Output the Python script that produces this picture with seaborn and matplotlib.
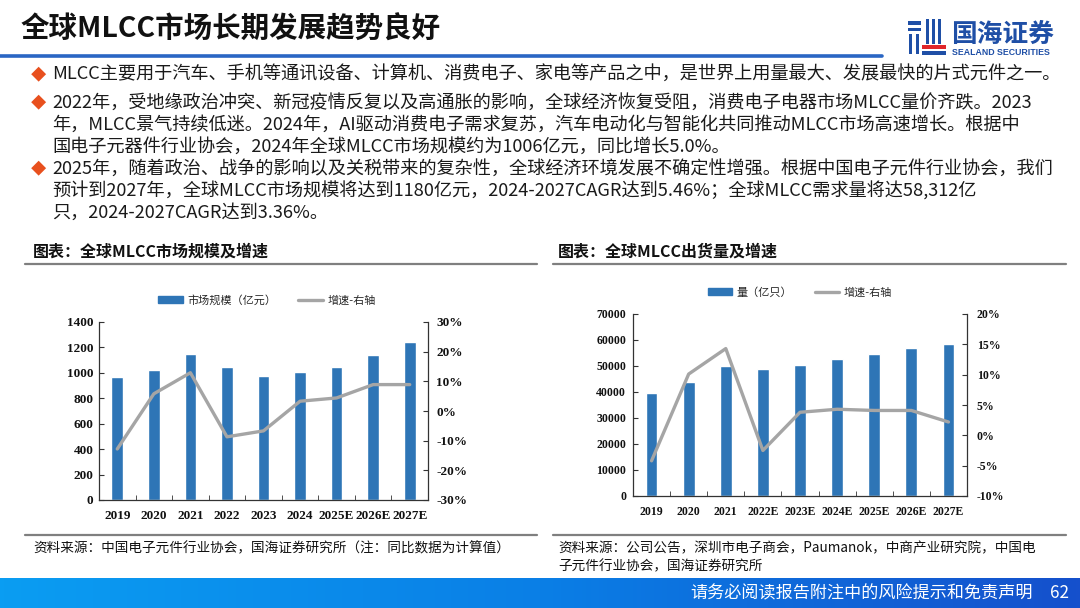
import numpy as np
import pandas as pd
import matplotlib
matplotlib.use("Agg")
import matplotlib.pyplot as plt
import seaborn as sns
from matplotlib.patches import Patch, Rectangle
from matplotlib.lines import Line2D
from matplotlib.colors import LinearSegmentedColormap
from matplotlib.ticker import FuncFormatter, FixedLocator

# ---------------- data ----------------
years_a = ["2019", "2020", "2021", "2022", "2023", "2024", "2025E", "2026E", "2027E"]
market_size = [965, 1022, 1147, 1046, 973, 1006, 1049, 1143, 1245]
market_growth = [-12.8, 5.8, 12.9, -8.7, -6.7, 3.3, 4.4, 8.9, 8.9]

years_b = ["2019", "2020", "2021", "2022E", "2023E", "2024E", "2025E", "2026E", "2027E"]
shipments = [39700, 43800, 50000, 48700, 50500, 52700, 54700, 57000, 58312]
ship_growth = [-4.2, 10.1, 14.3, -2.5, 3.8, 4.3, 4.1, 4.1, 2.2]

title = "全球MLCC市场长期发展趋势良好"
bullets = [
    ["MLCC主要用于汽车、手机等通讯设备、计算机、消费电子、家电等产品之中，是世界上用量最大、发展最快的片式元件之一。"],
    ["2022年，受地缘政治冲突、新冠疫情反复以及高通胀的影响，全球经济恢复受阻，消费电子电器市场MLCC量价齐跌。2023",
     "年，MLCC景气持续低迷。2024年，AI驱动消费电子需求复苏，汽车电动化与智能化共同推动MLCC市场高速增长。根据中",
     "国电子元器件行业协会，2024年全球MLCC市场规模约为1006亿元，同比增长5.0%。"],
    ["2025年，随着政治、战争的影响以及关税带来的复杂性，全球经济环境发展不确定性增强。根据中国电子元件行业协会，我们",
     "预计到2027年，全球MLCC市场规模将达到1180亿元，2024-2027CAGR达到5.46%；全球MLCC需求量将达58,312亿",
     "只，2024-2027CAGR达到3.36%。"],
]
chart_title_a = "图表：全球MLCC市场规模及增速"
chart_title_b = "图表：全球MLCC出货量及增速"
legend_a = ["市场规模（亿元）", "增速-右轴"]
legend_b = ["量（亿只）", "增速-右轴"]
source_a = "资料来源：中国电子元件行业协会，国海证券研究所（注：同比数据为计算值）"
source_b = ["资料来源：公司公告，深圳市电子商会，Paumanok，中商产业研究院，中国电",
            "子元件行业协会，国海证券研究所"]
footer = "请务必阅读报告附注中的风险提示和免责声明"
page_no = "62"

# ---------------- style ----------------
sns.set_style("ticks")
CJK = ["Noto Sans CJK SC", "DejaVu Sans"]
plt.rcParams["font.family"] = CJK
SERIF = ["Liberation Serif", "DejaVu Serif"]

BAR = "#2E75B6"
GRAY = "#A5A5A5"
W, H = 1080, 608

fig = plt.figure(figsize=(10.8, 6.08), dpi=100)
fig.patch.set_facecolor("white")


def fx(x):
    return x / W


def fy(y):
    return 1 - y / H


def ftext(x, y, s, **kw):
    kw.setdefault("va", "center")
    kw.setdefault("ha", "left")
    fig.text(fx(x), fy(y), s, **kw)


def hline(x0, x1, y, color, lw):
    fig.add_artist(Line2D([fx(x0), fx(x1)], [fy(y), fy(y)], color=color, lw=lw,
                          transform=fig.transFigure))


def rect(x0, y0, x1, y1, color):
    fig.add_artist(Rectangle((fx(x0), fy(y1)), fx(x1) - fx(x0), fy(y0) - fy(y1),
                             color=color, transform=fig.transFigure, lw=0))


# header
ftext(21, 30, title, fontsize=20.5, fontweight="bold", color="#111111")
hline(0, 882, 55.5, "#2A66C4", 2.6)

# logo
LB = "#1F4FA6"
LR = "#E0262A"
rect(908, 21, 921, 25, LB)
rect(908, 28, 921, 31, LB)
rect(909, 34, 912, 54, LB)
rect(916, 34, 919, 54, LB)
rect(926, 19, 929, 44, LB)
rect(932, 19, 935, 44, LB)
rect(938, 19, 941, 44, LB)
rect(922, 45, 946, 49, LR)
rect(922, 51, 946, 55, LB)
ftext(951, 34, "国海证券", fontsize=18.5, fontweight="bold", color=LB)
ftext(952, 52.5, "SEALAND SECURITIES", fontsize=6.3, fontweight="bold", color=LB,
      family=["Liberation Sans", "DejaVu Sans"])

# bullets
line_y = [[75], [103, 125, 147], [169, 191, 213]]
for lines, ys in zip(bullets, line_y):
    ftext(31, ys[0], "◆", fontsize=11, color="#E8501E", family=CJK)
    for s, y in zip(lines, ys):
        ftext(52, y, s, fontsize=13.1, color="#1A1A1A")

# chart headings and rules
ftext(33, 252, chart_title_a, fontsize=11.5, fontweight="bold", color="#111111")
ftext(558, 252, chart_title_b, fontsize=11.5, fontweight="bold", color="#111111")
hline(25, 537, 264, "#7F7F7F", 1.6)
hline(553, 1066, 264, "#7F7F7F", 1.6)
hline(25, 537, 535, "#7F7F7F", 1.6)
hline(553, 1066, 535, "#7F7F7F", 1.6)
ftext(33, 548, source_a, fontsize=9.8, color="#111111")
ftext(558, 548, source_b[0], fontsize=9.8, color="#111111")
ftext(558, 566, source_b[1], fontsize=9.8, color="#111111")

# footer gradient
fax = fig.add_axes([0, 0, 1, fy(578)])
cmap = LinearSegmentedColormap.from_list("ft", ["#0A9DF2", "#0A7FE6", "#1550CC"])
fax.imshow(np.linspace(0, 1, 256)[None, :], aspect="auto", cmap=cmap, extent=[0, 1, 0, 1])
fax.set_axis_off()
ftext(690, 593, footer, fontsize=12.3, color="white")
ftext(1050, 593, page_no, fontsize=12.3, color="white")


# ---------------- charts ----------------
def make_chart(rect_px, cats, bars, growth, ylim, ystep, glim, gstep, leg_labels,
               leg_center, fs, lpad, rpad):
    x0, y0, x1, y1 = rect_px
    ax = fig.add_axes([fx(x0), fy(y1), fx(x1) - fx(x0), fy(y0) - fy(y1)])
    df = pd.DataFrame({"cat": cats, "val": bars})
    sns.barplot(data=df, x="cat", y="val", ax=ax, color=BAR, saturation=1, width=0.32,
                order=cats)
    ax.set_xlim(-0.5, len(cats) - 0.5)
    ax.set_ylim(*ylim)
    ax.set_yticks(np.arange(ylim[0], ylim[1] + 1, ystep))
    ax.set_xlabel("")
    ax.set_ylabel("")
    ax2 = ax.twinx()
    pos = np.arange(len(cats))
    sns.lineplot(x=pos, y=growth, ax=ax2, color=GRAY, lw=2.4, sort=False, legend=False)
    ax2.set_ylim(*glim)
    ax2.set_yticks(np.arange(glim[0], glim[1] + 0.1, gstep))
    ax2.yaxis.set_major_formatter(FuncFormatter(lambda v, p: f"{v:.0f}%"))
    ax2.set_xlim(-0.5, len(cats) - 0.5)
    ax2.set_ylabel("")
    for a in (ax, ax2):
        a.spines["top"].set_visible(False)
        for sp in ("left", "right", "bottom"):
            a.spines[sp].set_color("#333333")
            a.spines[sp].set_linewidth(0.9)
    ax.spines["right"].set_visible(False)
    ax2.spines["left"].set_visible(False)
    ax2.spines["bottom"].set_visible(False)
    ax.set_xticks(pos)
    ax.set_xticklabels(cats)
    ax.xaxis.set_minor_locator(FixedLocator(np.arange(-0.5, len(cats), 1.0)))
    ax.tick_params(axis="x", which="major", length=0, pad=7)
    ax.tick_params(axis="x", which="minor", length=3.5, direction="in", color="#333333")
    ax.tick_params(axis="y", length=3.5, direction="in", pad=lpad, color="#333333")
    ax2.tick_params(axis="y", length=3.5, direction="in", pad=rpad, color="#333333")
    for lab in ax.get_xticklabels() + ax.get_yticklabels() + ax2.get_yticklabels():
        lab.set_fontfamily(SERIF)
        lab.set_fontweight("bold")
        lab.set_fontsize(fs)
        lab.set_color("#111111")
    handles = [Patch(facecolor=BAR, edgecolor=BAR),
               Line2D([0], [0], color=GRAY, lw=2.4)]
    fig.legend(handles, leg_labels, loc="center", bbox_to_anchor=(fx(leg_center[0]), fy(leg_center[1])),
               ncol=2, frameon=False, handlelength=2.2, handleheight=0.6,
               columnspacing=2.0, handletextpad=0.4, prop={"family": CJK, "size": 8})
    return ax, ax2


make_chart((99, 322, 428, 500), years_a, market_size, market_growth, (0, 1400), 200,
           (-30, 30), 10, legend_a, (267, 300), 9.5, 4, 6)
make_chart((633, 314, 967, 496), years_b, shipments, ship_growth, (0, 70000), 10000,
           (-10, 20), 5, legend_b, (800, 292), 8.5, 5, 7)

fig.savefig("out.png", dpi=100, facecolor="white")
